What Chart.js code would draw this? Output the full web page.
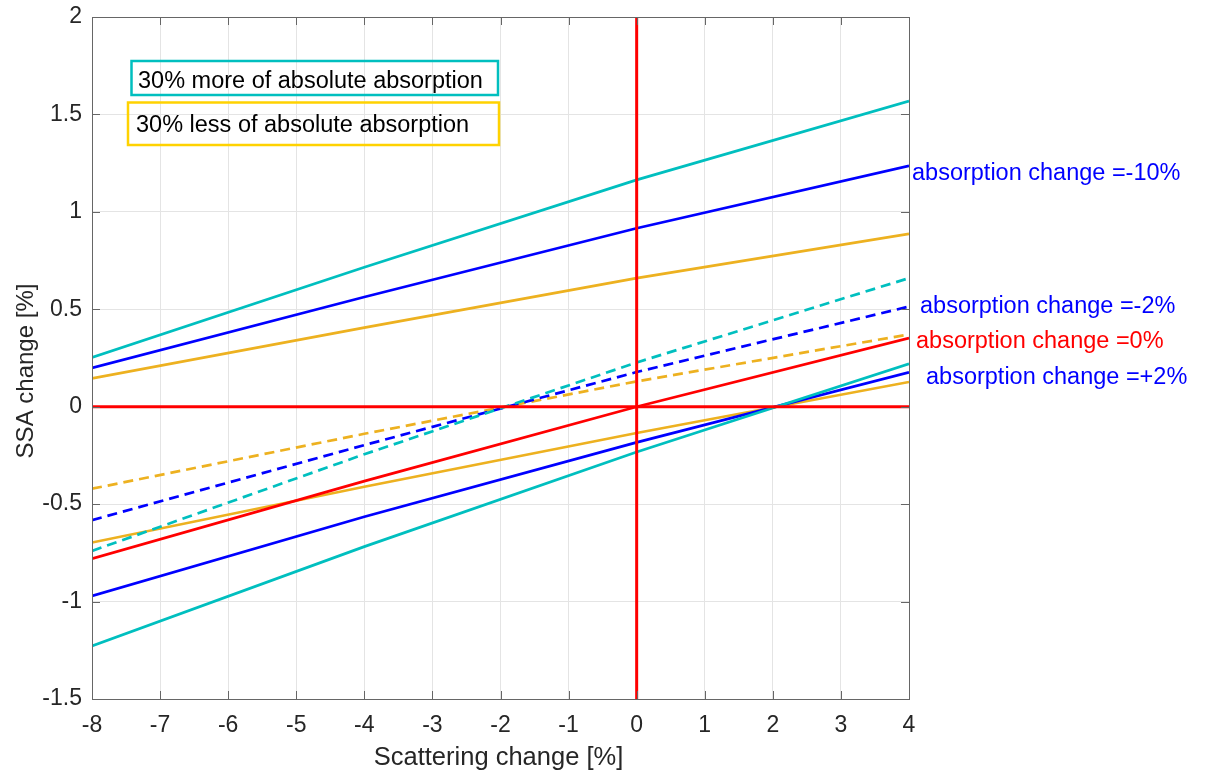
<!DOCTYPE html>
<html><head><meta charset="utf-8">
<script src="https://cdn.jsdelivr.net/npm/chart.js@4/dist/chart.umd.min.js"></script>
<style>html,body{margin:0;padding:0;background:#fff;}canvas{display:block}</style>
</head><body>
<canvas id="c" width="1206" height="773"></canvas>
<script>
// ---- data ----
const scatteringChange = [-8, -4, 0, 4];
// absorption change = -10%
const more_m10 = [0.253, 0.716, 1.164, 1.569];
const base_m10 = [0.199, 0.563, 0.916, 1.236];
const less_m10 = [0.145, 0.406, 0.660, 0.887];
// absorption change = -2%
const more_m2 = [-0.740, -0.244, 0.227, 0.660];
const base_m2 = [-0.582, -0.197, 0.178, 0.514];
const less_m2 = [-0.421, -0.139, 0.130, 0.371];
// absorption change = 0%
const base_0 = [-0.780, -0.382, 0.000, 0.352];
// absorption change = +2%
const more_p2 = [-1.228, -0.718, -0.232, 0.220];
const base_p2 = [-0.971, -0.565, -0.183, 0.176];
const less_p2 = [-0.697, -0.411, -0.135, 0.127];

const xRange = [-8, 4];
const yRange = [-1.5, 2];
const refLevel = 0;
const xTickValues = [-8, -7, -6, -5, -4, -3, -2, -1, 0, 1, 2, 3, 4];
const xTickLabels = ['-8', '-7', '-6', '-5', '-4', '-3', '-2', '-1', '0', '1', '2', '3', '4'];
const yTickValues = [-1.5, -1, -0.5, 0, 0.5, 1, 1.5, 2];
const yTickLabels = ['-1.5', '-1', '-0.5', '0', '0.5', '1', '1.5', '2'];
const legendLabels = ['30% more of absolute absorption', '30% less of absolute absorption'];
const annotationTexts = ['absorption change =-10%', 'absorption change =-2%', 'absorption change =0%', 'absorption change =+2%'];
const xTitle = 'Scattering change [%]';
const yTitle = 'SSA change [%]';

// ---- styles ----
const CYAN = '#00BFBF', BLUE = '#0000FF', ORANGE = '#EDB120', RED = '#FF0000', GOLD = '#FFD200';
const FONT = "'Liberation Sans', Arial, sans-serif";
const TXT = '#262626';

function pts(arr) { return scatteringChange.map((x, i) => ({ x: x, y: arr[i] })); }
function line(arr, color, dashed) {
  return { data: pts(arr), borderColor: color, borderWidth: 2.7, borderDash: dashed ? [10, 6] : [],
           pointRadius: 0, fill: false, tension: 0, order: 2, borderCapStyle: 'butt' };
}

const datasets = [
  { data: xRange.map(x => ({ x: x, y: refLevel })), borderColor: RED, borderWidth: 3, pointRadius: 0, order: 0 },
  { data: yRange.map(y => ({ x: refLevel, y: y })), borderColor: RED, borderWidth: 3, pointRadius: 0, order: 0 },
  line(more_m10, CYAN, false), line(base_m10, BLUE, false), line(less_m10, ORANGE, false),
  line(more_m2, CYAN, true), line(base_m2, BLUE, true), line(less_m2, ORANGE, true),
  line(base_0, RED, false),
  line(more_p2, CYAN, false), line(base_p2, BLUE, false), line(less_p2, ORANGE, false)
];

const overlay = {
  id: 'overlay',
  afterDraw(chart) {
    const ctx = chart.ctx, a = chart.chartArea, xs = chart.scales.x, ys = chart.scales.y;
    ctx.save();
    // axes box
    ctx.strokeStyle = '#666666'; ctx.lineWidth = 1;
    ctx.strokeRect(Math.round(a.left) + 0.5, Math.round(a.top) + 0.5, Math.round(a.right - a.left), Math.round(a.bottom - a.top));
    // inward ticks
    ctx.beginPath();
    xTickValues.forEach(v => {
      const p = Math.round(xs.getPixelForValue(v)) + 0.5;
      ctx.moveTo(p, a.bottom); ctx.lineTo(p, a.bottom - 8);
      ctx.moveTo(p, a.top); ctx.lineTo(p, a.top + 8);
    });
    yTickValues.forEach(v => {
      const p = Math.round(ys.getPixelForValue(v)) + 0.5;
      ctx.moveTo(a.left, p); ctx.lineTo(a.left + 8, p);
      ctx.moveTo(a.right, p); ctx.lineTo(a.right - 8, p);
    });
    ctx.stroke();

    // legend boxes
    ctx.lineWidth = 2.5;
    ctx.strokeStyle = CYAN; ctx.strokeRect(131.5, 61, 366.5, 34);
    ctx.strokeStyle = GOLD; ctx.strokeRect(128, 102.5, 371, 42.5);
    ctx.fillStyle = '#000'; ctx.font = '23.5px ' + FONT; ctx.textAlign = 'left'; ctx.textBaseline = 'alphabetic';
    ctx.fillText(legendLabels[0], 138, 88);
    ctx.fillText(legendLabels[1], 136, 132);

    // annotations
    const annColors = [BLUE, BLUE, RED, BLUE];
    const annX = [912, 920, 916, 926];
    const annY = [180, 313, 348, 384];
    annotationTexts.forEach((t, i) => { ctx.fillStyle = annColors[i]; ctx.fillText(t, annX[i], annY[i]); });

    // axis titles
    ctx.fillStyle = TXT; ctx.font = '25.5px ' + FONT; ctx.textAlign = 'center';
    ctx.fillText(xTitle, (a.left + a.right) / 2 - 2, 765);
    ctx.save();
    ctx.font = '24px ' + FONT;
    ctx.translate(33, 371);
    ctx.rotate(-Math.PI / 2);
    ctx.fillText(yTitle, 0, 0);
    ctx.restore();
    ctx.restore();
  }
};

new Chart(document.getElementById('c'), {
  type: 'line',
  data: { datasets: datasets },
  options: {
    responsive: false, animation: false, events: [],
    plugins: { legend: { display: false }, tooltip: { enabled: false } },
    layout: { padding: { left: 0, top: 17, right: 297, bottom: 30 } },
    scales: {
      x: {
        type: 'linear', min: xRange[0], max: xRange[1],
        afterBuildTicks: s => { s.ticks = xTickValues.map(v => ({ value: v })); },
        afterFit: s => { s.height = 44; s.paddingLeft = 0; s.paddingRight = 0; },
        ticks: { callback: v => xTickLabels[xTickValues.indexOf(v)], font: { family: FONT, size: 23 }, color: TXT, padding: 13, maxRotation: 0, autoSkip: false },
        grid: { color: '#e4e4e4', lineWidth: 1, drawTicks: false },
        border: { display: false }
      },
      y: {
        type: 'linear', min: yRange[0], max: yRange[1],
        afterBuildTicks: s => { s.ticks = yTickValues.map(v => ({ value: v })); },
        afterFit: s => { s.width = 92; s.paddingTop = 0; s.paddingBottom = 0; },
        ticks: { callback: v => yTickLabels[yTickValues.indexOf(v)], font: { family: FONT, size: 23 }, color: TXT, padding: 10, autoSkip: false },
        grid: { color: '#e4e4e4', lineWidth: 1, drawTicks: false },
        border: { display: false }
      }
    }
  },
  plugins: [overlay]
});
</script>
</body></html>
